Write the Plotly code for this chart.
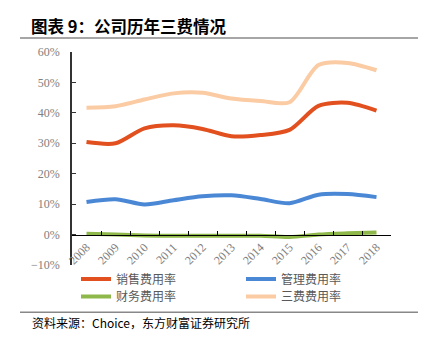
import plotly.graph_objects as go

years = ["2008", "2009", "2010", "2011", "2012", "2013", "2014", "2015", "2016", "2017", "2018"]
sales_rate = [30.4, 30.0, 34.9, 35.9, 34.7, 32.3, 32.7, 34.4, 42.3, 43.3, 40.7]
admin_rate = [10.7, 11.6, 9.9, 11.3, 12.6, 12.9, 11.7, 10.3, 13.1, 13.3, 12.3]
finance_rate = [0.3, 0.0, -0.3, -0.4, -0.4, -0.4, -0.4, -0.8, 0.0, 0.4, 0.7]
three_rate = [41.7, 42.2, 44.4, 46.4, 46.6, 44.7, 43.9, 43.5, 55.7, 56.4, 54.0]

names = ["销售费用率", "管理费用率", "财务费用率", "三费费用率"]
colors = ["#E2501F", "#4A88D6", "#8EB94A", "#FBCBA4"]
series = [sales_rate, admin_rate, finance_rate, three_rate]
legend_ids = ["legend", "legend2", "legend3", "legend4"]
# legend item positions (px): left edge, row centre
legend_pos = [(76, 279.0), (241, 279.0), (76, 296.5), (241, 296.5)]

# plot area in pixels
W, H = 427, 342
L, R, T, B = 72, 36, 52, 77
pw, ph = W - L - R, H - T - B

def px_x(x):
    return (x - L) / pw

def px_y(y):
    return (H - B - y) / ph

fig = go.Figure()
order = [3, 0, 1, 2]
for i in order:
    fig.add_trace(go.Scatter(
        x=years, y=series[i], name=names[i], mode="lines",
        line=dict(color=colors[i], width=4, shape="spline", smoothing=0.8),
        legend=legend_ids[i],
    ))

tick_font = dict(family="Liberation Serif", size=12, color="#808080")
leg_font = dict(family="Noto Sans CJK SC", size=12, color="#595959")

legend_layouts = {}
for lid, (lx, ly) in zip(legend_ids, legend_pos):
    legend_layouts[lid] = dict(
        x=px_x(lx), xanchor="left", y=px_y(ly), yanchor="middle",
        font=leg_font, bgcolor="rgba(0,0,0,0)", itemwidth=30,
        borderwidth=0,
    )

fig.update_layout(
    width=W, height=H,
    margin=dict(l=L, r=R, t=T, b=B),
    paper_bgcolor="white", plot_bgcolor="white",
    showlegend=True,
    xaxis=dict(
        type="category", range=[-0.5, 10.5],
        anchor="free", position=10 / 70,
        showline=True, linecolor="#000000", linewidth=1,
        ticks="inside", ticklen=4, tickcolor="#000000", tickson="boundaries",
        tickangle=-45, tickfont=tick_font, showgrid=False, zeroline=False,
    ),
    yaxis=dict(
        range=[-10, 60], dtick=10, ticksuffix="%",
        showline=True, linecolor="#333333", linewidth=1.5,
        ticks="inside", ticklen=4, tickcolor="#333333",
        tickfont=tick_font, showgrid=False, zeroline=False,
        ticklabelstandoff=8,
    ),
    shapes=[
        dict(type="line", xref="paper", yref="paper", x0=px_x(20), x1=px_x(418),
             y0=px_y(38), y1=px_y(38), line=dict(color="#888888", width=1.5)),
        dict(type="line", xref="paper", yref="paper", x0=px_x(20), x1=px_x(418),
             y0=px_y(312.3), y1=px_y(312.3), line=dict(color="#888888", width=1.5)),
    ],
    annotations=[
        dict(text="图表 9：公司历年三费情况", xref="paper", yref="paper",
             x=px_x(29), y=px_y(25.5), xanchor="left", yanchor="middle", showarrow=False,
             font=dict(family="Noto Sans CJK SC", size=16.5, color="#000000", weight="bold")),
        dict(text="资料来源：Choice，东方财富证券研究所", xref="paper", yref="paper",
             x=px_x(30), y=px_y(322), xanchor="left", yanchor="middle", showarrow=False,
             font=dict(family="Noto Sans CJK SC", size=12, color="#000000")),
    ],
    **legend_layouts,
)

fig.write_html("out.html")
